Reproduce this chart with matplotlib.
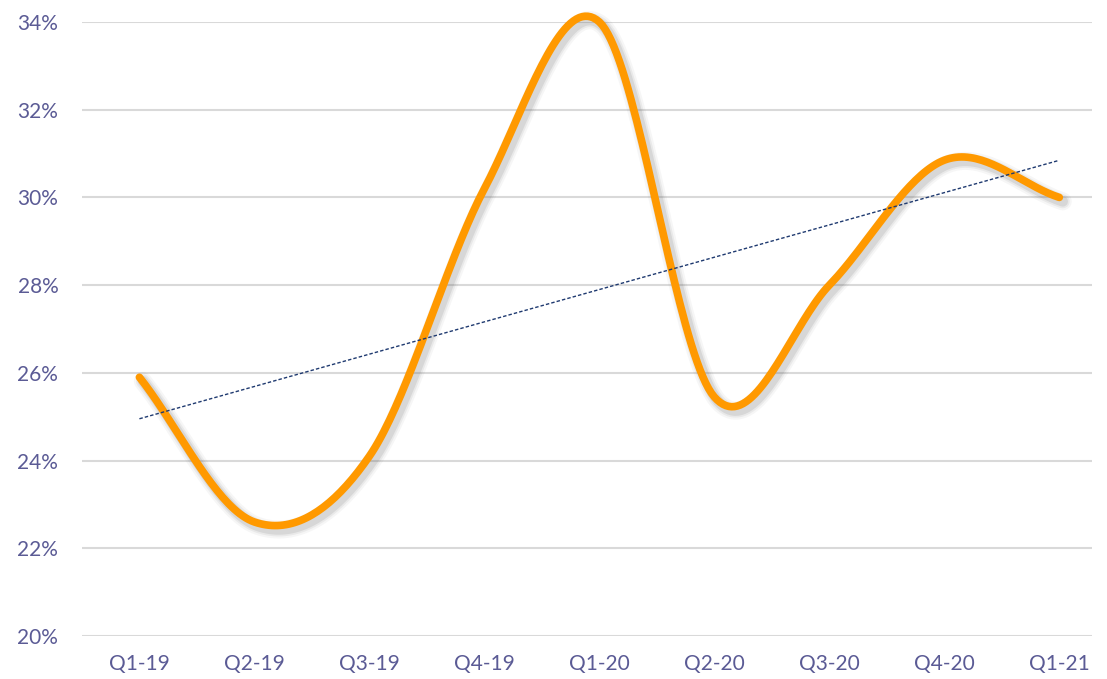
import numpy as np
import matplotlib
matplotlib.use("Agg")
import matplotlib.pyplot as plt

quarters = ["Q1-19", "Q2-19", "Q3-19", "Q4-19", "Q1-20", "Q2-20", "Q3-20", "Q4-20", "Q1-21"]
share = [25.9, 22.6, 24.1, 30.2, 34.0, 25.45, 28.0, 30.85, 30.0]
yticks = [20, 22, 24, 26, 28, 30, 32, 34]

plt.rcParams['font.family'] = ['Lato', 'DejaVu Sans']
txt_col = "#5b5b95"


def smooth(xs, ys, n=40):
    # catmull-rom through the points, like a smoothed office line
    px = np.concatenate([[2*xs[0]-xs[1]], xs, [2*xs[-1]-xs[-2]]])
    py = np.concatenate([[2*ys[0]-ys[1]], ys, [2*ys[-1]-ys[-2]]])
    outx, outy = [], []
    for i in range(1, len(px)-2):
        t = np.linspace(0, 1, n, endpoint=False)
        for p, out in ((px, outx), (py, outy)):
            p0, p1, p2, p3 = p[i-1], p[i], p[i+1], p[i+2]
            out.extend(0.5*((2*p1) + (-p0+p2)*t + (2*p0-5*p1+4*p2-p3)*t**2
                            + (-p0+3*p1-3*p2+p3)*t**3))
    outx.append(xs[-1])
    outy.append(ys[-1])
    return np.array(outx), np.array(outy)


x = np.arange(len(quarters), dtype=float)
y = np.array(share)
sx, sy = smooth(x, y)

fig = plt.figure(figsize=(11.07, 6.79), dpi=100)
ax = fig.add_axes([0.074, 0.0633, 0.912, 0.9043])

for v in yticks:
    ax.axhline(v, color="#d9d9d9", lw=1.5, zorder=0)

# soft shadow
for w, a in ((13, 0.05), (10, 0.08), (7.5, 0.12)):
    ax.plot(sx + 0.03, sy - 0.09, color="#555555", lw=w, alpha=a,
            solid_capstyle="round", zorder=1, clip_on=False)
ax.plot(sx, sy, color="#ff9900", lw=5.5, solid_capstyle="round", zorder=2,
        clip_on=False)

k, b = np.polyfit(x, y, 1)
ax.plot(x, k*x + b, color="#1f3a70", lw=1, ls=(0, (2.5, 1.5)), zorder=3)

ax.set_xlim(-0.5, 8.28)
ax.set_ylim(20, 34)
ax.set_yticks(yticks)
ax.set_yticklabels([f"{v}%" for v in yticks])
ax.set_xticks(x)
ax.set_xticklabels(quarters)
ax.tick_params(length=0, labelsize=15, colors=txt_col)
ax.tick_params(axis="y", pad=17)
ax.tick_params(axis="x", pad=13)
for s in ax.spines.values():
    s.set_visible(False)

fig.savefig("out.png", dpi=100)
